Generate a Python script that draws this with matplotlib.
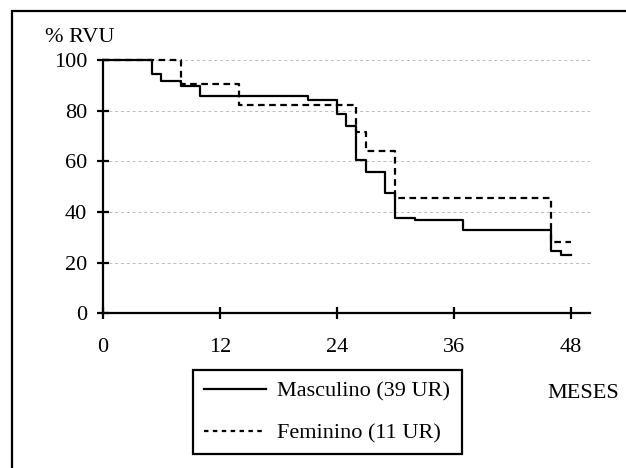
import matplotlib
matplotlib.use("Agg")
import matplotlib.pyplot as plt
from matplotlib.lines import Line2D
from matplotlib.patches import Rectangle

plt.rcParams['font.family'] = ['Liberation Serif', 'DejaVu Serif']

# Kaplan-Meier style curves
meses_masc = [0, 5, 6, 8, 10, 21, 24, 25, 26, 27, 29, 30, 32, 37, 46, 47, 48]
rvu_masc = [100, 94.6, 91.8, 89.9, 86.0, 84.3, 78.8, 74.2, 60.6, 56.0, 47.7,
            37.5, 36.9, 32.9, 24.8, 22.9, 22.9]

meses_fem = [0, 8, 14, 26, 27, 30, 46, 48]
rvu_fem = [100, 90.6, 82.2, 71.8, 64.3, 45.5, 28.1, 28.1]

labels = ['Masculino (39 UR)', 'Feminino (11 UR)']
xticks = [0, 12, 24, 36, 48]
yticks = [0, 20, 40, 60, 80, 100]

fs = 16

fig = plt.figure(figsize=(6.26, 4.68), dpi=100)
ax = fig.add_axes([0.1645, 0.3305, 0.778, 0.5407])

for y in yticks[1:]:
    ax.axhline(y, color='#bbbbbb', lw=0.7, ls=(0, (3, 3)), zorder=0)

ax.step(meses_masc, rvu_masc, where='post', color='black', lw=1.6, clip_on=False)
ax.step(meses_fem, rvu_fem, where='post', color='black', lw=1.6,
        dashes=(3, 2), clip_on=False)

ax.set_xlim(0, 50)
ax.set_ylim(0, 100)
ax.set_xticks(xticks)
ax.set_yticks(yticks)
ax.spines['top'].set_visible(False)
ax.spines['right'].set_visible(False)
ax.spines['left'].set_linewidth(1.6)
ax.spines['bottom'].set_linewidth(1.6)
ax.tick_params(axis='x', direction='inout', length=9, width=1.6, pad=13, labelsize=fs)
ax.tick_params(axis='y', direction='inout', length=9, width=1.6, pad=7, labelsize=fs)

fig.text(45 / 626, 1 - 38 / 468, '% RVU', fontsize=fs, va='center', ha='left')
fig.text(547 / 626, 1 - 393 / 468, 'MESES', fontsize=fs, va='center', ha='left')

handles = [Line2D([], [], color='black', lw=1.6),
           Line2D([], [], color='black', lw=1.6, dashes=(2, 2))]
leg = fig.legend(handles, labels, loc='upper left',
                 bbox_to_anchor=(193 / 626, 1 - 370 / 468), borderaxespad=0,
                 fontsize=fs, fancybox=False, edgecolor='black', framealpha=1,
                 handlelength=2.8, handletextpad=0.5, borderpad=0.5,
                 labelspacing=0.95)
leg.get_frame().set_linewidth(1.6)

# outer frame, cut at right and bottom edges
fig.patches.append(Rectangle((12 / 626, -0.05), 1.1, 1 - 11 / 468 + 0.05,
                             transform=fig.transFigure, fill=False,
                             edgecolor='black', lw=1.6))

fig.savefig('out.png', dpi=100)
